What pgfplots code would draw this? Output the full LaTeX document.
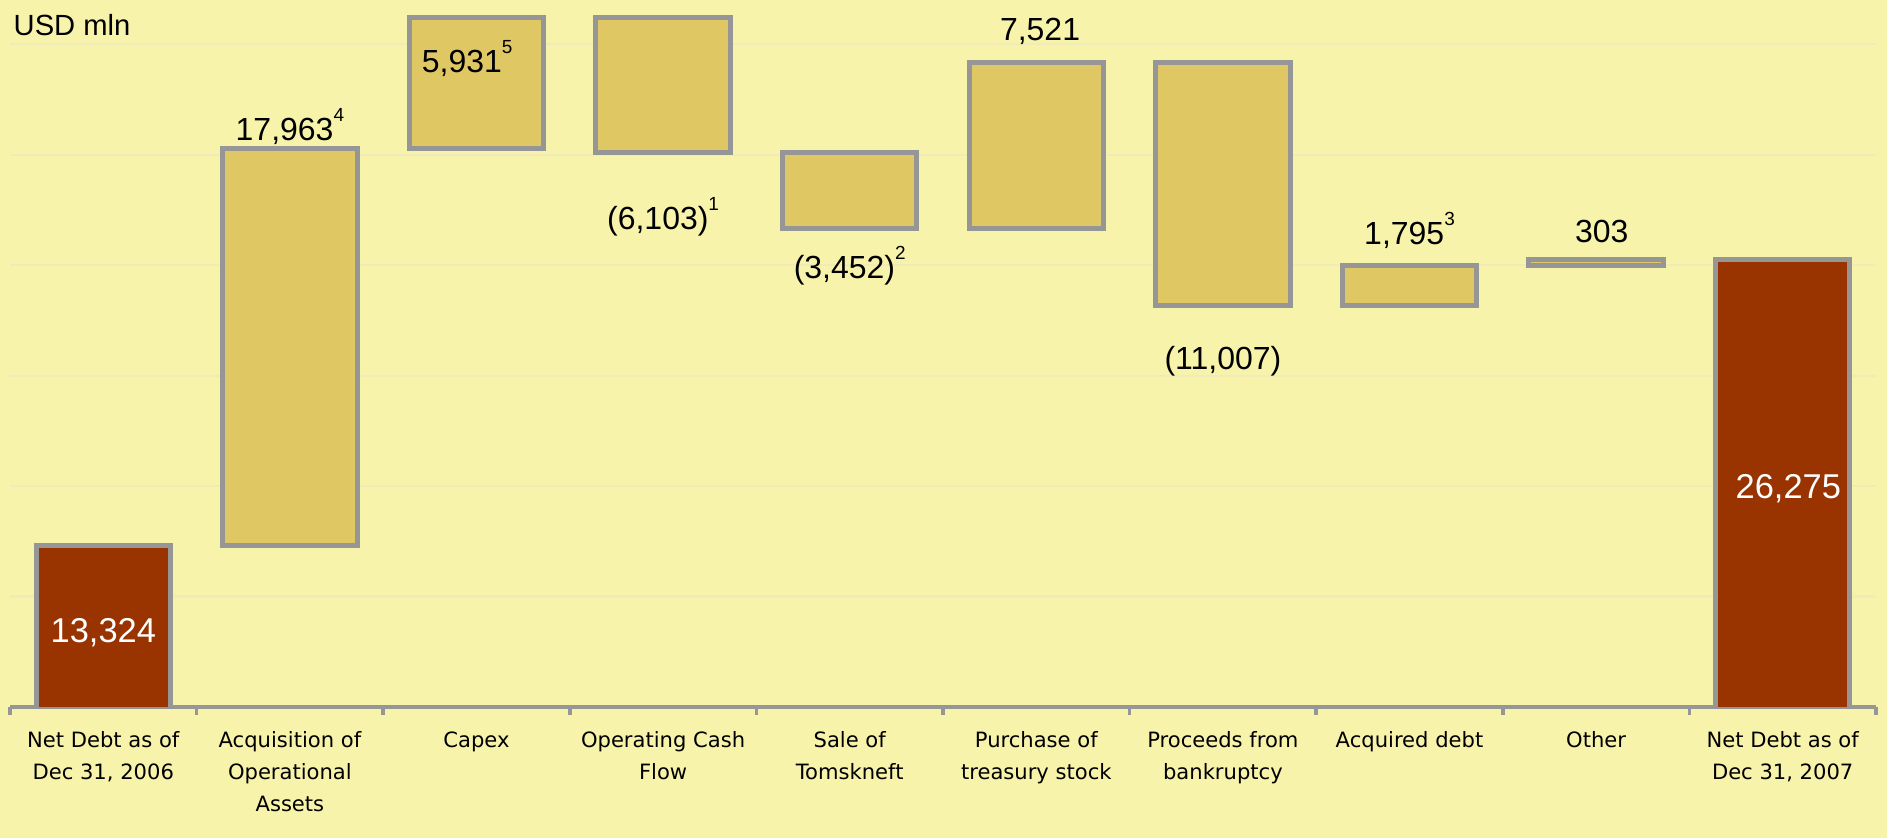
\documentclass[border=0pt]{standalone}
\usepackage{pgfplots}
\pgfplotsset{compat=1.18}
\usepackage{fontspec}
\setmainfont{Liberation Sans}
\newfontfamily\tickfont{DejaVu Sans}
\definecolor{bg}{RGB}{248,243,170}
\definecolor{gridc}{RGB}{240,235,185}
\definecolor{goldbar}{RGB}{223,199,100}
\definecolor{redbar}{RGB}{153,51,0}
\definecolor{edge}{RGB}{150,150,150}
\newcommand{\sups}[1]{\raisebox{5.2pt}{\fontsize{5.4}{6}\selectfont #1}}
\tikzset{
  lbl/.style={inner sep=0pt, anchor=base, font=\fontsize{9.1}{10}\selectfont},
  wlbl/.style={inner sep=0pt, anchor=base, text=white, font=\fontsize{9.8}{11}\selectfont},
}

\begin{document}
\begin{tikzpicture}
\path[use as bounding box, fill=bg] (0,0) rectangle (18.87cm,8.38cm);
\begin{axis}[
  at={(0.10cm,1.31cm)}, anchor=south west,
  scale only axis, width=18.66cm, height=7.07cm,
  xmin=-0.5, xmax=9.5, ymin=6000, ymax=38000,
  ybar stacked, bar width=0.72,
  axis x line*=bottom, axis y line*=left,
  x axis line style={draw=edge, line width=1.1pt},
  y axis line style={draw=none},
  ytick={6000,11000,16000,21000,26000,31000,36000}, yticklabels={}, 
  ymajorgrids, grid style={draw=gridc, line width=0.6pt},
  xtick={0,1,2,3,4,5,6,7,8,9},
  xticklabels={{Net Debt as of\\Dec 31, 2006},{Acquisition of\\Operational\\Assets},Capex,{Operating Cash\\Flow},{Sale of\\Tomskneft},{Purchase of\\treasury stock},{Proceeds from\\bankruptcy},Acquired debt,Other,{Net Debt as of\\Dec 31, 2007}},
  xticklabel style={align=center, anchor=north, yshift=-1.3pt, font=\tickfont\fontsize{6.0}{9.1}\selectfont, text=black},
  tick align=outside, major tick length=0.08cm,
  major tick style={draw=none},
  extra x ticks={-0.5,0.5,1.5,2.5,3.5,4.5,5.5,6.5,7.5,8.5,9.5},
  extra x tick labels={},
  extra x tick style={major tick style={draw=edge, line width=1pt}},
]
\addplot[draw=none, fill=none] coordinates {(0,0) (1,13324) (2,31287) (3,31115) (4,27663) (5,27663) (6,24177) (7,24177) (8,25972) (9,0)};
\addplot[fill=goldbar, draw=edge, line width=1.4pt] coordinates {(0,0) (1,17963) (2,5931) (3,6103) (4,3452) (5,7521) (6,11007) (7,1795) (8,303) (9,0)};
\addplot[fill=redbar, draw=edge, line width=1.4pt] coordinates {(0,13324) (1,0) (2,0) (3,0) (4,0) (5,0) (6,0) (7,0) (8,0) (9,26275)};

\coordinate (l1) at (axis cs:1,31656);
\coordinate (l2) at (axis cs:1.95,34733);
\coordinate (l3) at (axis cs:3,27629);
\coordinate (l4) at (axis cs:4,25412);
\coordinate (l5) at (axis cs:5.02,36181);
\coordinate (l6) at (axis cs:6,21294);
\coordinate (l7) at (axis cs:7,26950);
\coordinate (l8) at (axis cs:8.03,27041);
\coordinate (l0) at (axis cs:0,8941);
\coordinate (l9) at (axis cs:9.03,15457);
\end{axis}
\node[lbl] at (l1) {17,963\sups{4}};
\node[lbl] at (l2) {5,931\sups{5}};
\node[lbl] at (l3) {(6,103)\sups{1}};
\node[lbl] at (l4) {(3,452)\sups{2}};
\node[lbl] at (l5) {7,521};
\node[lbl] at (l6) {(11,007)};
\node[lbl] at (l7) {1,795\sups{3}};
\node[lbl] at (l8) {303};
\node[wlbl] at (l0) {13,324};
\node[wlbl] at (l9) {26,275};
\node[inner sep=0pt, anchor=base west, font=\fontsize{8.3}{9}\selectfont] at (0.13cm,8.02cm) {USD mln};
\end{tikzpicture}
\end{document}
